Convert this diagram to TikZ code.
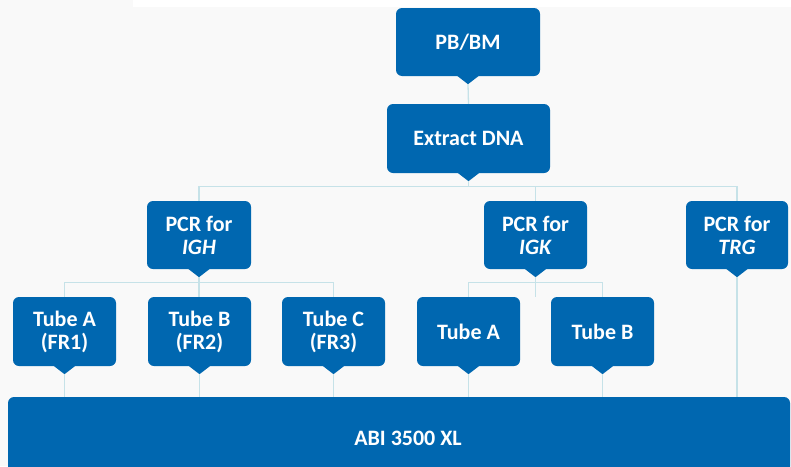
\documentclass[tikz,border=0pt]{standalone}
\usepackage{fontspec}
\setmainfont{Carlito}
\definecolor{boxblue}{HTML}{0067B0}
\definecolor{linkcol}{HTML}{C6E2E8}
\definecolor{bggray}{HTML}{F9F9F9}
% small triangle under a box, and its tip
\newcommand{\pointer}[1]{%
  \fill[boxblue] ([xshift=-11pt,yshift=0.5pt]#1.south) -- ([yshift=-8pt]#1.south) -- ([xshift=11pt,yshift=0.5pt]#1.south) -- cycle;
  \coordinate (#1-tip) at ([yshift=-8pt]#1.south);}
\begin{document}
\begin{tikzpicture}[x=1pt,y=-1pt,
  box/.style={fill=boxblue,text=white,rounded corners=6pt,inner sep=0pt,align=center,
    font=\fontsize{22}{23}\selectfont\bfseries},
  link/.style={draw=linkcol,line width=1.3pt}]
\clip (0,0) rectangle (791,466);
\fill[bggray] (0,0) rectangle (791,466);
\fill[white] (133,0) rectangle (791,7);

\node[box,minimum width=144pt,minimum height=68pt] (pb) at (468,42) {PB/BM};
\node[box,minimum width=163pt,minimum height=69pt] (dna) at (468.5,138.5) {Extract DNA};

\node[box,minimum width=104pt,minimum height=68pt] (igh) at (199,235) {PCR for\\\textit{IGH}};
\node[box,minimum width=103pt,minimum height=68pt] (igk) at (535.5,235) {PCR for\\\textit{IGK}};
\node[box,minimum width=102pt,minimum height=68pt] (trg) at (737,235) {PCR for\\\textit{TRG}};

\node[box,minimum width=103pt,minimum height=69pt] (tubeA1) at (64.5,331.5) {Tube A\\(FR1)};
\node[box,minimum width=103pt,minimum height=69pt] (tubeB1) at (199.5,331.5) {Tube B\\(FR2)};
\node[box,minimum width=103pt,minimum height=69pt] (tubeC1) at (333.5,331.5) {Tube C\\(FR3)};
\node[box,minimum width=103pt,minimum height=69pt] (kappaA) at (468.5,331.5) {Tube A};
\node[box,minimum width=103pt,minimum height=69pt] (kappaB) at (602.5,331.5) {Tube B};

\node[box,minimum width=782pt,minimum height=83pt] (abi) at (399,438.5) {\hspace*{18pt}ABI 3500 XL};

\foreach \n in {pb,dna,igh,igk,trg,tubeA1,tubeB1,tubeC1,kappaA,kappaB} {\pointer{\n}}

\draw[link] (pb-tip) -- (dna.north);
\draw[link] (dna-tip) -- ++(0,6);
\draw[link] (igh.north) -- ++(0,-14) -| (trg.north);
\draw[link] (igk.north) -- ++(0,-14);

\draw[link] (tubeA1.north) -- ++(0,-14) -| (tubeC1.north);
\draw[link] (igh-tip) -- (igh-tip |- tubeB1.north);
\draw[link] (kappaA.north) -- ++(0,-14) -| (kappaB.north);
\draw[link] (igk-tip) -- (igk-tip |- kappaA.north);

\foreach \t in {tubeA1,tubeB1,tubeC1,kappaA,kappaB,trg}
  \draw[link] (\t-tip) -- (\t-tip |- abi.north);
\end{tikzpicture}
\end{document}
